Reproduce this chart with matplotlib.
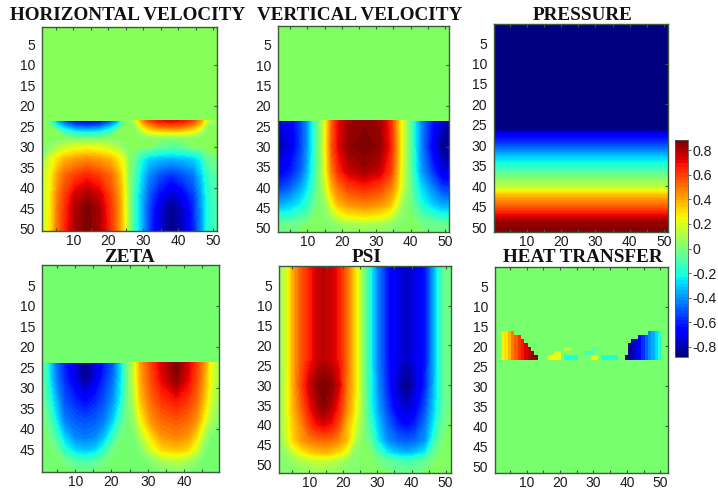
import numpy as np
import matplotlib
matplotlib.use('Agg')
import matplotlib.pyplot as plt
from matplotlib.cm import ScalarMappable
from matplotlib.colors import ListedColormap, Normalize
from matplotlib.ticker import FixedLocator

# Values (colour -> value on the jet scale)
VMAX = 0.885

hv_cols = [0, 3.5, 5.5, 7.5, 10.5, 14, 17.5, 20.5, 22.5, 24.5, 26, 27.5, 29.5, 31.5, 34.5, 38, 41.5, 44.5, 46.5, 48.5, 53]
hv_rows = [0, 23.5, 23.7, 25, 26.5, 28, 30, 33, 37, 42, 45, 53]
hv_vals = [
    [0] * 21,
    [0] * 21,
    [0, -.15, -.4, -.55, -.68, -.72, -.68, -.55, -.4, -.12, 0, .15, .4, .58, .68, .72, .68, .58, .42, .15, 0],
    [0, 0, -.22, -.35, -.48, -.52, -.48, -.35, -.22, 0, 0, 0, .28, .42, .52, .55, .52, .42, .28, 0, 0],
    [0, 0, 0, -.12, -.22, -.25, -.22, -.12, 0, 0, 0, 0, .1, .22, .27, .28, .27, .22, .1, 0, 0],
    [0] * 21,
    [0, .03, .1, .15, .2, .22, .2, .15, .1, .03, 0, 0, 0, 0, -.05, -.08, -.05, 0, 0, 0, 0],
    [0, .2, .3, .38, .42, .45, .42, .38, .3, .2, 0, -.05, -.2, -.3, -.33, -.35, -.33, -.3, -.22, -.05, 0],
    [.08, .25, .42, .52, .6, .65, .6, .52, .42, .25, 0, -.1, -.28, -.42, -.52, -.58, -.52, -.45, -.32, -.15, -.02],
    [.1, .28, .48, .6, .75, .82, .75, .6, .48, .28, .02, -.15, -.33, -.5, -.65, -.78, -.68, -.55, -.38, -.18, -.03],
    [.1, .28, .5, .62, .8, .88, .8, .62, .5, .28, .02, -.15, -.35, -.52, -.72, -.86, -.75, -.58, -.4, -.2, -.03],
    [.1, .3, .5, .65, .82, .88, .82, .65, .5, .3, .02, -.15, -.35, -.55, -.75, -.88, -.78, -.6, -.4, -.2, -.03],
]

vv_cols = [0, 5, 8, 10, 11.5, 13.5, 15.5, 17, 19, 22, 26.5, 31, 34, 36, 37.5, 39.5, 41, 43, 46, 49, 53]
vv_rows = [0, 23.5, 23.7, 30, 36, 40, 44, 47, 49, 53]
vv_vals = [
    [0] * 21,
    [0] * 21,
    [-.75, -.68, -.55, -.4, -.22, 0, .28, .52, .7, .82, .85, .82, .66, .42, .22, 0, -.2, -.42, -.6, -.75, -.85],
    [-.85, -.72, -.55, -.4, -.22, 0, .3, .55, .72, .85, .88, .85, .68, .45, .22, 0, -.2, -.42, -.65, -.85, -.88],
    [-.72, -.62, -.5, -.35, -.2, 0, .27, .48, .64, .76, .82, .76, .62, .42, .2, 0, -.18, -.38, -.55, -.72, -.75],
    [-.6, -.5, -.38, -.27, -.15, 0, .2, .38, .5, .6, .65, .6, .5, .36, .18, 0, -.13, -.28, -.42, -.55, -.6],
    [-.4, -.33, -.25, -.18, -.08, 0, .08, .24, .38, .45, .48, .45, .38, .22, .08, 0, -.07, -.2, -.3, -.38, -.4],
    [-.2, -.18, -.12, -.08, -.02, 0, .03, .1, .2, .27, .3, .27, .2, .08, .03, 0, -.02, -.08, -.15, -.2, -.2],
    [-.05, -.04, -.02, 0, 0, 0, 0, .02, .05, .08, .1, .08, .05, .02, 0, 0, 0, -.02, -.03, -.05, -.05],
    [0] * 21,
]

p_cols = [0, 53]
p_rows = [0, 25.9, 27.1, 29.5, 32.8, 34.5, 36.9, 40.2, 41, 42.6, 44.3, 46.7, 48.4, 50.8, 53]
p_by_row = [-.885, -.885, -.7, -.55, -.3, -.2, -.05, .15, .25, .4, .5, .68, .82, .88, .885]

z_cols = [0, 2, 4.5, 7, 10, 12.7, 15.5, 18, 20.5, 22.5, 24.5, 26, 28, 31, 34, 37.9, 41, 43.5, 45.5, 47.5, 51]
z_rows = [0, 23.7, 23.9, 28, 33, 38, 42, 45, 48, 51]
z_vals = [
    [0] * 21,
    [0] * 21,
    [0, -.15, -.45, -.6, -.75, -.88, -.75, -.62, -.5, -.3, 0, .15, .42, .6, .75, .88, .75, .6, .45, .22, 0],
    [0, -.15, -.42, -.58, -.72, -.85, -.72, -.58, -.46, -.28, -.02, .15, .4, .58, .72, .85, .72, .58, .42, .22, 0],
    [0, -.1, -.33, -.52, -.6, -.66, -.6, -.52, -.4, -.24, 0, .1, .35, .52, .62, .68, .62, .52, .37, .17, 0],
    [0, -.03, -.22, -.44, -.5, -.52, -.5, -.44, -.3, -.12, 0, .04, .24, .44, .52, .55, .52, .44, .26, .08, 0],
    [0, 0, -.1, -.3, -.42, -.45, -.42, -.32, -.14, -.02, 0, 0, .1, .3, .43, .47, .43, .3, .1, 0, 0],
    [0, 0, -.02, -.18, -.3, -.33, -.3, -.18, -.02, 0, 0, 0, .02, .18, .32, .35, .32, .18, .02, 0, 0],
    [0, 0, 0, -.02, -.08, -.12, -.08, -.02, 0, 0, 0, 0, 0, .02, .08, .12, .08, .02, 0, 0, 0],
    [0] * 21,
]

psi_cols = [0, 2, 3.5, 5, 7.5, 10, 12, 14.1, 16.5, 18.5, 21, 22.5, 24, 26, 28, 30, 33, 36, 38.6, 41, 44, 46, 48, 50, 53]
psi_rows = [0, 23.8, 24.2, 30, 36, 40, 44, 47, 49, 53]
psi_upper = [.02, .1, .2, .38, .55, .65, .75, .78, .75, .68, .52, .38, .24, 0, -.22, -.42, -.62, -.72, -.78, -.72, -.62, -.42, -.2, -.03, 0]
psi_vals = [
    psi_upper,
    psi_upper,
    [.02, .1, .2, .38, .55, .68, .76, .8, .76, .7, .52, .38, .24, 0, -.22, -.42, -.62, -.72, -.8, -.72, -.62, -.42, -.2, -.03, 0],
    [.02, .1, .22, .38, .58, .75, .85, .88, .85, .75, .5, .38, .25, 0, -.22, -.4, -.6, -.78, -.88, -.76, -.6, -.4, -.2, -.03, 0],
    [.02, .1, .22, .36, .52, .68, .78, .85, .78, .66, .46, .35, .22, 0, -.2, -.36, -.55, -.7, -.76, -.68, -.52, -.35, -.18, -.03, 0],
    [.02, .1, .2, .33, .45, .6, .68, .72, .68, .58, .38, .28, .15, 0, -.14, -.3, -.48, -.6, -.65, -.6, -.45, -.3, -.12, -.02, 0],
    [.02, .07, .18, .3, .42, .48, .5, .52, .5, .46, .36, .22, .08, 0, -.06, -.24, -.42, -.48, -.5, -.48, -.4, -.22, -.05, 0, 0],
    [.02, .04, .06, .14, .25, .32, .35, .37, .35, .3, .2, .06, .02, 0, -.01, -.1, -.25, -.32, -.35, -.32, -.25, -.08, -.01, 0, 0],
    [.02, .02, .03, .05, .1, .13, .15, .16, .13, .1, .05, .02, .02, 0, 0, -.02, -.06, -.1, -.13, -.1, -.06, -.02, 0, 0, 0],
    [.02, .02, .02, .02, .02, .02, .02, .02, .02, .02, .02, .02, .02, 0, 0, 0, 0, 0, 0, 0, 0, 0, 0, 0, 0],
]

# Heat transfer is blocky: seven cell rows, starting just above row 16
heat_left = [.22, .3, .38, .48, .55, .62, .68, .74, .8, .85, .88]
heat_right = [-.2, -.28, -.35, -.42, -.5, -.58, -.65, -.72, -.78, -.84, -.88]
heat_left_len = [4, 6, 7, 8, 9, 10, 11]
heat_right_len = [4, 7, 9, 10, 10, 10, 11]
# row index, first cell, last cell, value
heat_bits = [(4, 21, 23, .1), (4, 29, 31, -.08), (5, 18, 20, .22), (5, 27, 30, -.1),
             (6, 16, 20, .24), (6, 21, 25, -.2), (6, 29, 31, .25), (6, 32, 37, -.2)]
heat_row_edges = [16.2, 17.2, 18.2, 19.2, 20.2, 21.2, 22.2, 23.4]
heat_col_edges = [0.3 + i for i in range(51)]

titles = ['HORIZONTAL VELOCITY', 'VERTICAL VELOCITY', 'PRESSURE', 'ZETA', 'PSI', 'HEAT TRANSFER']
title_pos = [(128, 16), (360, 16), (583, 16), (129, 258), (367, 258), (583, 258)]
# panel boxes in pixels: left, top, right, bottom
boxes = [(42, 27, 217, 231), (278, 26, 449, 232), (494, 24, 668, 232),
         (42, 265, 219, 472), (279, 266, 451, 473), (495, 267, 668, 473)]
xlims = [(1.05, 51.1), (1.45, 51.2), (0.4, 51.2), (0.8, 49.7), (1.08, 51.6), (0.55, 52.3)]
ylims = [(50.6, 0.8), (51, 0.4), (51.2, 0.33), (50.5, 0), (52.1, 0), (51.7, 0.08)]
y_labels = [list(range(5, 55, 5))] * 3 + [list(range(5, 50, 5))] + [list(range(5, 55, 5))] * 2
x_labels = [[10, 20, 30, 40, 50]] * 3 + [[10, 20, 30, 40]] + [[10, 20, 30, 40, 50]] * 2
# the flat zero green differs a little from panel to panel in the scan
zero_greens = ['#86ff58', '#80ff62', '#7cff79', '#74ff6e', '#80ff62', '#78ff6e']
cbar_ticks = [0.8, 0.6, 0.4, 0.2, 0, -0.2, -0.4, -0.6, -0.8]
cbar_labels = ['0.8', '0.6', '0.4', '0.2', '0', '-0.2', '-0.4', '-0.6', '-0.8']

W, H = 718, 491
FRAME = '#3e5a3e'
TEXT = '#1c1c1c'
plt.rcParams['font.family'] = ['Liberation Sans', 'DejaVu Sans']

N_COLORS = 65
jet = plt.get_cmap('jet', N_COLORS)
norm = Normalize(-VMAX, VMAX)
levels = np.linspace(-VMAX, VMAX, N_COLORS + 1)


def panel_cmap(green):
    colors = jet(np.arange(N_COLORS))
    colors[N_COLORS // 2] = matplotlib.colors.to_rgba(green)
    return ListedColormap(colors)


def make_axes(fig, box):
    left, top, right, bottom = box
    return fig.add_axes([left / W, 1 - bottom / H, (right - left) / W, (bottom - top) / H])


def draw_field(ax, cols, rows, vals, cmap):
    ax.contourf(cols, rows, np.array(vals), levels=levels, cmap=cmap, norm=norm, extend='both')


def draw_heat(ax, cmap):
    grid = np.zeros((7, 50))
    for r in range(7):
        n = heat_left_len[r]
        grid[r, 2:2 + n] = heat_left[:n]
        n = heat_right_len[r]
        grid[r, 50 - n:50] = heat_right[:n][::-1]
    for r, a, b, v in heat_bits:
        grid[r, a:b] = v
    ax.set_facecolor(cmap(norm(0)))
    ax.pcolormesh(heat_col_edges, heat_row_edges, grid, cmap=cmap, norm=norm)


def style_axes(ax, xlim, ylim, xt, yt):
    ax.set_xlim(xlim)
    ax.set_ylim(ylim)
    ax.set_xticks(xt)
    ax.set_yticks(yt)
    ax.xaxis.set_minor_locator(FixedLocator([5, 15, 25, 35, 45]))
    ax.yaxis.set_minor_locator(FixedLocator([10, 20, 30, 40]))
    ax.yaxis.remove_overlapping_locs = False
    ax.tick_params(axis='x', which='both', direction='in', length=2.5, width=0.8, color=FRAME,
                   top=True, bottom=True)
    ax.tick_params(axis='x', which='major', pad=2.5, labelsize=10, labelcolor=TEXT)
    ax.tick_params(axis='y', which='major', length=0, pad=5, labelsize=10, labelcolor=TEXT)
    ax.tick_params(axis='y', which='minor', direction='in', length=2.5, width=0.8, color=FRAME,
                   left=False, right=True)
    for s in ax.spines.values():
        s.set_color(FRAME)
        s.set_linewidth(1.0)


def main():
    fig = plt.figure(figsize=(W / 100, H / 100), dpi=100)
    p_vals = [[v, v] for v in p_by_row]
    fields = [(hv_cols, hv_rows, hv_vals), (vv_cols, vv_rows, vv_vals), (p_cols, p_rows, p_vals),
              (z_cols, z_rows, z_vals), (psi_cols, psi_rows, psi_vals), None]
    for i, f in enumerate(fields):
        ax = make_axes(fig, boxes[i])
        cmap = panel_cmap(zero_greens[i])
        if f is None:
            draw_heat(ax, cmap)
        else:
            draw_field(ax, *f, cmap)
        style_axes(ax, xlims[i], ylims[i], x_labels[i], y_labels[i])
        fig.text(title_pos[i][0] / W, 1 - title_pos[i][1] / H, titles[i], ha='center', va='center',
                 family=['Liberation Serif', 'DejaVu Serif'], weight='bold', fontsize=13.8, color='#111111')

    # Colorbar shared by all panels
    cax = make_axes(fig, (675, 140, 688, 357))
    cb = fig.colorbar(ScalarMappable(norm=norm, cmap=jet), cax=cax)
    cb.set_ticks(cbar_ticks)
    cb.set_ticklabels(cbar_labels)
    cb.ax.tick_params(length=2, width=0.6, color=FRAME, pad=1.5, labelsize=10.2, labelcolor=TEXT)
    cb.outline.set_edgecolor('#555555')
    cb.outline.set_linewidth(0.6)

    fig.savefig('out.png', dpi=100)


if __name__ == '__main__':
    main()
